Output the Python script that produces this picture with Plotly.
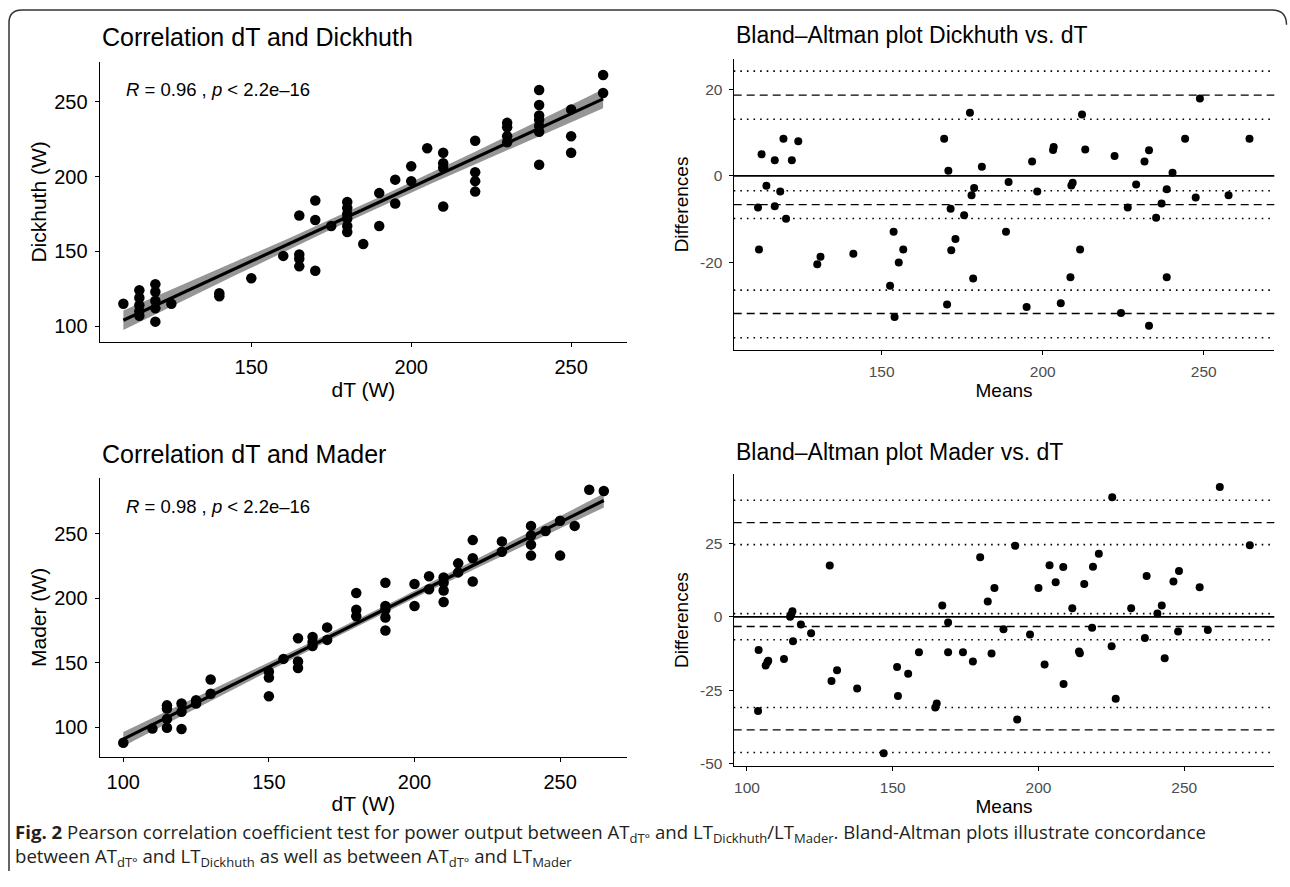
import numpy as np
import plotly.graph_objects as go

W, H = 1290, 887

# ---------------- data ----------------
# Correlation dT vs Dickhuth
dick_dt = [110, 115, 115, 115, 115, 115, 120, 120, 120, 120, 120, 125, 140, 140, 150, 160,
           165, 165, 165, 165, 170, 170, 170, 175, 180, 180, 180, 180, 180, 180, 185, 190, 190,
           195, 195, 200, 200, 205, 210, 210, 210, 210, 220, 220, 220, 220, 230, 230, 230, 230,
           240, 240, 240, 240, 240, 240, 240, 250, 250, 250, 260, 260]
dick_w = [115, 124, 119, 114, 110, 107, 128, 123, 117, 112, 103, 115, 122, 120, 132, 147,
          174, 148, 145, 140, 184, 171, 137, 167, 183, 179, 175, 172, 167, 163, 155, 189, 167,
          198, 182, 207, 197, 219, 216, 209, 206, 180, 224, 203, 197, 190, 236, 233, 227, 223,
          258, 248, 241, 238, 234, 230, 208, 245, 227, 216, 268, 256]

# Correlation dT vs Mader
mad_dt = [100, 110, 115, 115, 115, 115, 120, 120, 120, 125, 125, 130, 130, 150, 150, 150, 155,
          160, 160, 160, 165, 165, 165, 170, 170, 180, 180, 180, 190, 190, 190, 190, 190, 200, 200,
          205, 205, 210, 210, 210, 210, 215, 215, 220, 220, 220, 230, 230, 240, 240, 240, 240, 245,
          250, 250, 255, 260, 265]
mad_w = [88, 99, 117, 114.6, 106.4, 99.7, 118.5, 112, 98.7, 121, 118.5, 137, 126, 143, 138.5, 124, 153,
         169, 151, 146, 170, 166, 163, 177.4, 167.7, 204, 191, 186, 212, 194, 191, 185, 175, 211, 194,
         217, 207, 216, 212, 206, 197, 227, 220, 245, 231, 213, 244, 236, 256, 248.5, 241.5, 233, 252,
         260, 233, 256, 284, 283]

# Bland-Altman Dickhuth vs dT
ba_d_means = [111.6, 111.9, 112.7, 114.2, 116.8, 116.8, 118.5, 119.5, 120.3, 122.1, 124.1, 130.0,
              131.0, 141.2, 152.6, 153.7, 154.0, 155.3, 156.7, 169.4, 170.3, 170.7, 171.4, 171.6,
              172.9, 175.6, 177.4, 177.9, 178.7, 178.4, 181.1, 188.6, 189.4, 195.0, 196.7, 198.3,
              203.2, 203.4, 205.6, 208.6, 208.9, 209.3, 211.6, 212.2, 213.2, 222.3, 224.3, 226.4,
              229.0, 231.6, 233.0, 233.0, 235.2, 236.9, 238.5, 238.5, 240.3, 244.2, 247.5, 248.8,
              257.7, 264.2]
ba_d_diffs = [-7.3, -17.0, 5.0, -2.3, 3.6, -7.0, -3.6, 8.6, -9.9, 3.6, 8.0, -20.4,
              -18.7, -18.0, -25.4, -12.9, -32.6, -20.0, -17.0, 8.6, -29.7, 1.2, -7.6, -17.2,
              -14.6, -9.1, 14.6, -4.5, -2.8, -23.7, 2.1, -12.9, -1.4, -30.3, 3.3, -3.6,
              6.0, 6.7, -29.4, -23.4, -2.2, -1.6, -17.0, 14.2, 6.1, 4.6, -31.7, -7.3,
              -2.0, 3.3, 5.9, -34.6, -9.7, -6.4, -3.1, -23.4, 0.7, 8.6, -5.0, 17.9,
              -4.5, 8.6]
# bias, limits of agreement and their confidence limits
ba_d_bias = [-6.65]
ba_d_loa = [18.65, -31.8]
ba_d_ci = [24.2, 13.07, -3.44, -9.86, -26.4, -37.4]

# Bland-Altman Mader vs dT
ba_m_means = [104.0, 103.8, 106.4, 107.0, 107.3, 112.7, 114.8, 115.2, 115.6, 115.8, 118.5, 122.0,
              128.4, 129.0, 130.9, 137.8, 146.9, 151.5, 151.8, 155.3, 159.0, 164.6, 165.1, 167.0,
              169.0, 169.0, 174.1, 177.5, 180.0, 182.6, 183.9, 184.9, 188.0, 192.0, 192.7, 197.1,
              200.0, 202.1, 203.8, 205.9, 208.5, 208.6, 211.6, 213.9, 214.2, 215.7, 218.4, 218.7,
              220.7, 225.1, 225.3, 226.5, 231.8, 236.5, 237.1, 240.8, 242.3, 243.3, 246.3, 247.9,
              248.2, 255.3, 258.1, 262.2, 272.5]
ba_m_diffs = [-11.3, -32.1, -16.6, -15.5, -15.0, -14.4, 0.0, 0.9, 1.9, -8.3, -2.6, -5.6,
              17.5, -21.9, -18.2, -24.4, -46.5, -17.1, -27.0, -19.4, -12.1, -30.9, -29.5, 3.9,
              -1.9, -12.1, -12.1, -15.2, 20.3, 5.2, -12.5, 9.8, -4.2, 24.2, -35.0, -6.0,
              9.8, -16.2, 17.6, 11.8, 17.0, -22.9, 2.9, -11.8, -12.4, 11.2, -3.7, 17.1,
              21.5, -10.0, 40.7, -27.9, 2.9, -7.2, 13.9, 1.1, 3.9, -14.1, 12.0, -5.0,
              15.6, 10.1, -4.5, 44.2, 24.4]
ba_m_bias = [-3.3]
ba_m_loa = [32.1, -38.5]
ba_m_ci = [39.7, 24.6, 1.1, -7.8, -30.9, -46.2]

# tick labels
corr1_xticks = [150, 200, 250]
corr1_yticks = [100, 150, 200, 250]
corr2_xticks = [100, 150, 200, 250]
corr2_yticks = [100, 150, 200, 250]
ba1_xticks = [150, 200, 250]
ba1_yticks = [-20, 0, 20]
ba1_yticktext = ["-20", "0", "20"]
ba2_xticks = [100, 150, 200, 250]
ba2_yticks = [-50, -25, 0, 25]
ba2_yticktext = ["-50", "-25", "0", "25"]

titles = ["Correlation dT and Dickhuth", "Bland\u2013Altman plot Dickhuth vs. dT",
          "Correlation dT and Mader", "Bland\u2013Altman plot Mader vs. dT"]
stats_text = ["<i>R</i> = 0.96 , <i>p</i> &lt; 2.2e\u201316", "<i>R</i> = 0.98 , <i>p</i> &lt; 2.2e\u201316"]

FONT = "Liberation Sans"


def px(x):
    return x / W


def py(y):
    return 1 - y / H


def lm_band(x, y, t=2.0):
    x = np.asarray(x, float)
    y = np.asarray(y, float)
    b, a = np.polyfit(x, y, 1)
    n = len(x)
    resid = y - (a + b * x)
    s = np.sqrt(np.sum(resid ** 2) / (n - 2))
    xs = np.linspace(x.min(), x.max(), 80)
    fit = a + b * xs
    se = s * np.sqrt(1 / n + (xs - x.mean()) ** 2 / np.sum((x - x.mean()) ** 2))
    return xs, fit, fit - t * se, fit + t * se


fig = go.Figure()

# ---- correlation panels ----
for (xd, yd, xa, ya) in [(dick_dt, dick_w, "x", "y"), (mad_dt, mad_w, "x3", "y3")]:
    xs, fit, lo, hi = lm_band(xd, yd)
    fig.add_trace(go.Scatter(x=np.concatenate([xs, xs[::-1]]), y=np.concatenate([hi, lo[::-1]]),
                             fill="toself", fillcolor="rgb(150,150,150)", line=dict(width=0),
                             mode="lines", hoverinfo="skip", showlegend=False, xaxis=xa, yaxis=ya))
    fig.add_trace(go.Scatter(x=xd, y=yd, mode="markers",
                             marker=dict(color="black", size=10.5), showlegend=False, xaxis=xa, yaxis=ya))
    fig.add_trace(go.Scatter(x=xs, y=fit, mode="lines", line=dict(color="black", width=3.2),
                             showlegend=False, xaxis=xa, yaxis=ya))

# ---- Bland-Altman panels ----
shapes = []
for (mx, dy, bias, loa, ci, xa, ya) in [(ba_d_means, ba_d_diffs, ba_d_bias, ba_d_loa, ba_d_ci, "x2", "y2"),
                                        (ba_m_means, ba_m_diffs, ba_m_bias, ba_m_loa, ba_m_ci, "x4", "y4")]:
    def hline(yv, dash, width=1.4):
        shapes.append(dict(type="line", xref=xa + " domain", yref=ya, x0=0, x1=1, y0=yv, y1=yv,
                           line=dict(color="black", width=width, dash=dash), layer="below"))
    hline(0, "solid", 1.6)
    for v in ci:
        hline(v, "1.6px,5px", 1.6)
    for v in bias + loa:
        hline(v, "8px,5px")
    fig.add_trace(go.Scatter(x=mx, y=dy, mode="markers", marker=dict(color="black", size=8),
                             showlegend=False, xaxis=xa, yaxis=ya))

# ---- axes ----
def axis_common(tickfont_size, tickcolor, title, title_size, standoff):
    return dict(showline=True, linecolor="black", linewidth=1.3, mirror=False,
                ticks="outside", ticklen=4, tickwidth=1.2, tickcolor="black",
                showgrid=False, zeroline=False,
                tickfont=dict(family=FONT, size=tickfont_size, color=tickcolor),
                title=dict(text=title, font=dict(family=FONT, size=title_size, color="black"), standoff=standoff),
                ticklabelstandoff=3)

c1x = [px(99.7), px(627.1)]
c2x = [px(733.7), px(1274.3)]

fig.update_layout(
    xaxis=dict(domain=c1x, range=[102.6, 267.5], tickvals=corr1_xticks, anchor="y",
               **axis_common(20, "black", "dT (W)", 21, 4)),
    yaxis=dict(domain=[py(344.3), py(62.3)], range=[89.4, 276.8], tickvals=corr1_yticks, anchor="x",
               **axis_common(20, "black", "Dickhuth (W)", 21, 1)),
    xaxis2=dict(domain=c2x, range=[104.05, 271.9], tickvals=ba1_xticks, anchor="y2",
                **axis_common(15.5, "#4d4d4d", "Means", 19, 3)),
    yaxis2=dict(domain=[py(352.7), py(59)], range=[-40.3, 27.1], tickvals=ba1_yticks, ticktext=ba1_yticktext,
                anchor="x2", **axis_common(15.5, "#4d4d4d", "Differences", 19, 6)),
    xaxis3=dict(domain=c1x, range=[91.9, 273], tickvals=corr2_xticks, anchor="y3",
                **axis_common(20, "black", "dT (W)", 21, 4)),
    yaxis3=dict(domain=[py(762.3), py(481)], range=[76.9, 293.3], tickvals=corr2_yticks, anchor="x3",
                **axis_common(20, "black", "Mader (W)", 21, 1)),
    xaxis4=dict(domain=c2x, range=[95.45, 280.9], tickvals=ba2_xticks, anchor="y4",
                **axis_common(15.5, "#4d4d4d", "Means", 19, 3)),
    yaxis4=dict(domain=[py(771), py(477.7)], range=[-50.75, 48.5], tickvals=ba2_yticks, ticktext=ba2_yticktext,
                anchor="x4", **axis_common(15.5, "#4d4d4d", "Differences", 19, 6)),
)

# ---- text annotations ----
ann = []
title_pos = [(99.7, 37.5, 25), (733.7, 35.7, 23), (99.7, 457.5, 25), (733.7, 455, 23)]
for t, (x0, y0, fs) in zip(titles, title_pos):
    ann.append(dict(text=t, x=px(x0), y=py(y0), xref="paper", yref="paper", xanchor="left", yanchor="middle",
                    showarrow=False, font=dict(family=FONT, size=fs, color="black")))
for t, y0 in zip(stats_text, [90.3, 509.7]):
    ann.append(dict(text=t, x=px(124), y=py(y0), xref="paper", yref="paper", xanchor="left", yanchor="middle",
                    showarrow=False, font=dict(family=FONT, size=18.5, color="black")))

caption = ("<b>Fig. 2</b> Pearson correlation coefficient test for power output between AT<sub>dT\u00b0</sub> "
           "and LT<sub>Dickhuth</sub>/LT<sub>Mader</sub>. Bland-Altman plots illustrate concordance<br>"
           "between AT<sub>dT\u00b0</sub> and LT<sub>Dickhuth</sub> as well as between AT<sub>dT\u00b0</sub> "
           "and LT<sub>Mader</sub>")
ann.append(dict(text=caption, x=px(13), y=py(851), xref="paper", yref="paper", xanchor="left", yanchor="middle",
                align="left", showarrow=False, font=dict(family="Open Sans", size=18.6, color="#231f20")))

# ---- frame ----
frame_path = (f"M {px(1286.5)},{py(25)} Q {px(1286.5)},{py(10)} {px(1272)},{py(10)} "
              f"L {px(22)},{py(10)} Q {px(9)},{py(10)} {px(9)},{py(23)} L {px(9)},{py(877)}")
shapes.append(dict(type="path", xref="paper", yref="paper", path=frame_path,
                   line=dict(color="#333333", width=1.5)))

fig.update_layout(width=W, height=H, margin=dict(l=0, r=0, t=0, b=0),
                  paper_bgcolor="white", plot_bgcolor="white",
                  annotations=ann, shapes=shapes, showlegend=False)

fig.write_html("out.html", config={"displayModeBar": False},
               post_script="document.body.style.margin='0px';document.documentElement.style.overflow='hidden';")
